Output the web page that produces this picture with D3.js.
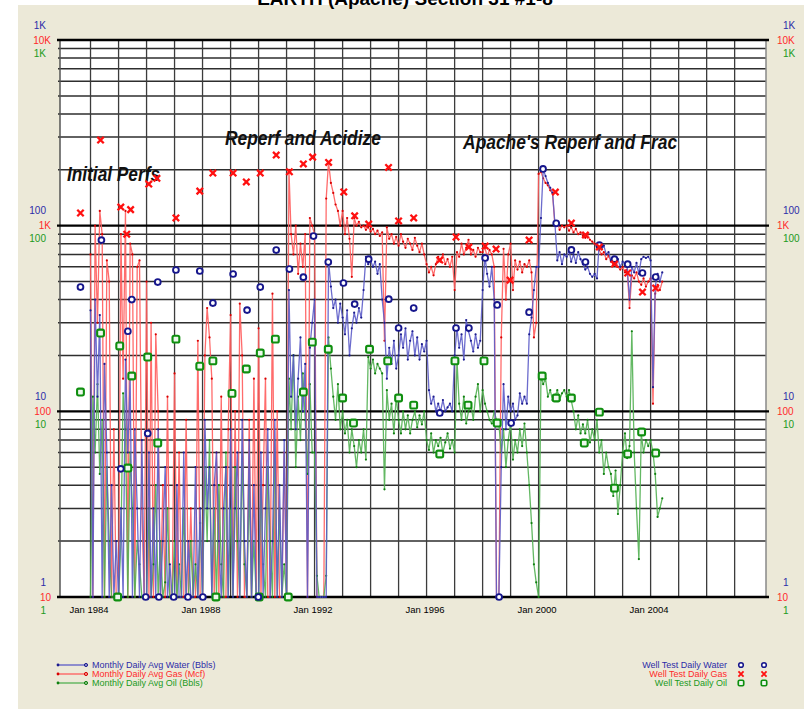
<!DOCTYPE html>
<html><head><meta charset="utf-8">
<script src="https://cdn.jsdelivr.net/npm/d3@7"></script>
<style>
html,body{margin:0;padding:0;background:#fff;}
svg{display:block;font-family:"Liberation Sans",Arial,sans-serif;}
</style></head><body>
<svg id="c" width="804" height="709"></svg>
<script>
// ---------------- DATA ----------------
const monthlyStart = [1984, 0]; // Jan 1984, one value per month
const gasMonthly = [
  700,0,1000,300,1200,900,0,650,500,0,80,0,
  0,900,150,1200,0,800,700,0,600,650,30,0,
  500,0,300,0,260,100,0,40,0,120,0,0,
  160,0,60,0,0,90,0,30,0,0,240,0,
  0,200,360,250,150,0,60,0,120,0,0,80,
  330,0,100,0,380,200,0,0,90,0,150,0,
  280,0,40,150,0,0,430,0,100,0,0,60,
  0,2000,900,700,1000,550,800,600,900,0,1100,1000,
  900,0,0,0,0,1400,2200,1700,1500,1300,1200,1000,
  1200,900,1100,850,530,1100,1000,1050,980,1000,950,980,
  930,960,900,940,880,920,240,980,850,900,800,870,
  780,900,820,760,850,800,740,860,780,720,800,700,
  620,560,600,540,620,680,640,700,620,660,600,680,
  450,720,680,800,700,760,840,700,740,680,760,720,
  720,760,680,740,700,600,0,0,250,750,400,700,
  800,450,650,580,640,560,620,600,650,560,250,300,
  1900,1950,1800,1700,1650,1550,1500,1000,1050,950,1000,980,
  1000,940,980,920,960,900,920,880,860,900,840,820,
  800,760,740,700,720,660,690,640,620,660,600,580,
  600,560,580,360,540,520,560,500,480,520,470,500,
  520,110,430,480,450,500
];
const waterMonthly = [
  35,0,40,12,33,0,18,6,0,4,0,2,
  0,3,0,19,6,15,0,8,3,0,7,0,
  0,6,0,3,0,8,0,2,5,0,1.5,0,
  0,4,0,0,6,0,2,0,0,5,0,3,
  0,9,3,5,0,4,6,2,0,3,5,0,
  8,0,3,6,0,9,2,0,7,0,4,0,
  0,6,0,3,8,0,2,9,0,4,0,7,
  0,45,12,20,8,15,25,10,18,0,22,30,
  40,0,0,0,0,0,65,47,36,40,30,38,
  32,26,35,20,28,34,30,36,32,45,68,62,
  65,60,64,55,62,40,30,15,22,18,24,17,
  20,26,22,28,19,24,27,20,25,19,23,21,
  24,13,11,12,10,11,10,11.5,10,10.5,11,10,
  20,28,22,26,19,31,27,24,21,26,22,24,
  45,68,55,47,60,40,0,0,5,14,8,12,
  10,11,9,9.5,12.5,11,12,11,26,32,45,60,
  60,110,200,185,170,160,150,103,65,72,62,70,
  68,74,64,70,63,72,66,62,58,60,55,53,
  55,52,80,75,78,70,72,65,68,62,66,60,
  64,62,60,40,60,56,63,55,66,68,67,68,
  65,13.5,47,55,50,56
];
const oilMonthly = [
  0,12,6,14,4.6,9,0,5,2,0,1,0,
  0,2,12.5,8,0,6,3,0,2,1.5,0,1,
  0,3,0,1.5,4,0,2,0,1.2,3,0,0,
  2,0,1.5,0,3,0,0,2,0,1.5,0,2.5,
  0,5,2,7,0,3,0,4,1.5,0,6,0,
  3,0,5,2,0,6,1.5,0,4,0,2,0,
  0,4,1.5,0,5,2,0,7,0,3,0,1.5,
  0,15,8,20,5,12,7,16,9,4.6,14,6,
  6,1.3,0,0,0,1.3,25,17,12,9,14,8,
  10,7.6,9,6,8,6.5,5,7,6,8,5.5,19.6,
  17,19,16,18,17,16,3.8,13,9,11,7.6,12,
  9,7.6,10,8,9.5,7.6,9,10,8.2,9.5,8.5,10,
  7,6.2,7.6,6,7,6.5,7.2,6,6.8,7.6,6.3,7,
  6,18.7,11,9,12,8.6,10,11,9,12,14,10,
  13,11,10,9,8.6,10,9,8.6,6,8,5,7,
  8.6,5.5,7,6,8,6.5,8.6,6,4,2.5,1.5,1.2,
  1,15.5,14,15,12,13,11.5,12,13,11.5,12.5,13,
  12,13,11.5,10,8,9.5,7.6,8.5,7.6,9,6.8,8,
  7,9,6,7,4.6,6,5,4.6,3.5,4.8,2.8,4,
  6,7.6,5.6,6.5,27,6,3,1.6,7.6,6,7,6.5,
  7,6,4.6,2.7,3,3.4
];
// well tests: [decimal year, value]
const gasTests = [[1983.64,1170],[1984.36,2890],[1985.08,1260],[1985.29,900],[1985.43,1220],[1986.08,1675],[1986.37,1800],[1987.05,1100],[1987.9,1535],[1988.37,1920],[1989.09,1920],[1989.56,1720],[1990.06,1920],[1990.63,2400],[1991.1,1950],[1991.6,2150],[1991.93,2340],[1992.5,2190],[1993.04,1520],[1993.43,1130],[1993.93,1020],[1994.64,2060],[1995.0,1060],[1995.54,1100],[1996.47,653],[1997.05,869],[1997.51,767],[1998.09,777],[1998.48,748],[1998.98,509],[1999.66,836],[2000.6,1517],[2001.17,1033],[2001.67,890],[2002.17,767],[2002.71,621],[2003.18,556],[2003.71,439],[2004.18,461]];
const waterTests = [[1983.64,46.7],[1984.39,83.6],[1985.08,4.9],[1985.33,27],[1985.47,40],[1986.04,7.6],[1986.4,49.7],[1987.05,57.7],[1987.9,57],[1988.37,38.3],[1989.09,54.9],[1989.59,35.1],[1990.06,46.7],[1990.63,73.9],[1991.1,58.4],[1991.6,52.8],[1991.96,87.9],[1992.49,63.7],[1993.03,49.1],[1993.43,37.8],[1993.93,66],[1994.65,40.2],[1995.0,28.1],[1995.54,36],[1996.47,9.8],[1997.05,28.1],[1997.51,28.1],[1998.09,67],[1998.52,37.4],[1999.02,8.65],[1999.66,34.2],[2000.16,202],[2000.63,103],[2001.17,74],[2001.67,63.7],[2002.17,78.6],[2002.71,66],[2003.18,62],[2003.71,55.6],[2004.18,52.9],
  [1985.97,0],[1986.44,0],[1986.97,0],[1987.48,0],[1988.01,0],[1989.99,0],[1998.59,0]];
const oilTests = [[1983.64,12.7],[1984.36,26.4],[1985.04,22.5],[1985.33,4.95],[1985.47,15.5],[1986.04,19.6],[1986.4,6.75],[1987.05,24.5],[1987.9,17.5],[1988.37,18.7],[1989.05,12.5],[1989.56,16.9],[1990.06,20.6],[1990.6,24.5],[1991.6,12.7],[1991.92,23.6],[1992.49,21.6],[1993.0,11.8],[1993.39,8.65],[1993.96,21.6],[1994.61,18.7],[1995.0,11.8],[1995.54,10.8],[1996.47,5.89],[1997.01,18.7],[1997.48,10.8],[1998.05,18.7],[1998.52,8.65],[2000.13,15.5],[2000.63,11.8],[2001.17,11.8],[2001.63,6.75],[2002.17,9.9],[2002.71,3.86],[2003.18,5.89],[2003.68,7.74],[2004.18,5.96],
  [1984.97,0],[1988.48,0],[1990.02,0],[1991.06,0]];
const xTickYears = [1984,1988,1992,1996,2000,2004];
const waterTickLabels = ["1","10","100","1K"];
const gasTickLabels = ["10","100","1K","10K"];
const oilTickLabels = ["1","10","100","1K"];
const titleText = "EARTH (Apache) Section 31 #1-8";
const annotations = [
  {text:"Initial Perfs", year:1983.16, gas:1740, len:93},
  {text:"Reperf and Acidize", year:1988.8, gas:2720, len:156},
  {text:"Apache's Reperf and Frac", year:1997.3, gas:2590, len:214}
];
const legendLines = ["Monthly Daily Avg Water (Bbls)","Monthly Daily Avg Gas (Mcf)","Monthly Daily Avg Oil (Bbls)"];
const legendTests = ["Well Test Daily Water","Well Test Daily Gas","Well Test Daily Oil"];

// ---------------- STYLE / LAYOUT ----------------
const W=804,H=709;
const P={l:60,r:766,t:40,b:597};
const C={
  water:{line:"#5c5cc8",dot:"#1c1c8e",text:"#2c2ca8",mark:"#16168c"},
  gas:{line:"#ff5c5c",dot:"#d80000",text:"#ff2a2a",mark:"#ff1010"},
  oil:{line:"#52b052",dot:"#0f7f0f",text:"#219a21",mark:"#0f8f0f"}
};
const svg=d3.select("#c");
function yd(y){const yr=Math.floor(y);return new Date(yr,0,1+Math.round((y-yr)*365.25));}

const x=d3.scaleTime().domain([yd(1982.91),yd(2008.12)]).range([P.l,P.r]);
const yW=d3.scaleLog().domain([1,1000]).range([P.b,P.t]);
const yG=d3.scaleLog().domain([10,10000]).range([P.b,P.t]);
const yO=d3.scaleLog().domain([1,1000]).range([P.b,P.t]);
const sy=(s,v)=>s(Math.max(v,s.domain()[0]));

// backgrounds
svg.append("rect").attr("width",W).attr("height",H).attr("fill","#fff");
svg.append("rect").attr("x",18).attr("y",5).attr("width",W-18).attr("height",H-5).attr("fill","#ECE9D8");
svg.append("text").attr("x",405).attr("y",5).attr("text-anchor","middle")
  .attr("font-size",19).attr("font-weight","bold").attr("fill","#000").text(titleText);
svg.append("rect").attr("x",P.l).attr("y",P.t).attr("width",P.r-P.l).attr("height",P.b-P.t).attr("fill","#fff");

// grid
const g=svg.append("g");
const minor=[],major=[1,10,100,1000];
for(let k=0;k<3;k++)for(let m=2;m<=9;m++)minor.push(m*Math.pow(10,k));
g.selectAll(".mn").data(minor).join("line")
  .attr("x1",P.l-2).attr("x2",P.r).attr("y1",d=>yW(d)).attr("y2",d=>yW(d))
  .attr("stroke","#2e2e2e").attr("stroke-width",1.5);
const years=d3.range(1984,2008);
g.selectAll(".vl").data(years).join("line")
  .attr("x1",d=>x(new Date(d,0,1))).attr("x2",d=>x(new Date(d,0,1)))
  .attr("y1",P.t).attr("y2",P.b).attr("stroke","#3c3c3c").attr("stroke-width",1.3);
g.append("line").attr("x1",P.l).attr("x2",P.l).attr("y1",P.t).attr("y2",P.b).attr("stroke","#555").attr("stroke-width",1.5);
g.append("line").attr("x1",P.r).attr("x2",P.r).attr("y1",P.t).attr("y2",P.b).attr("stroke","#888").attr("stroke-width",1.5);
g.selectAll(".mj").data(major).join("line")
  .attr("x1",P.l-3).attr("x2",P.r+3).attr("y1",d=>yW(d)).attr("y2",d=>yW(d))
  .attr("stroke","#000").attr("stroke-width",2.4);

// x axis labels
const xa=svg.append("g").attr("transform",`translate(0,${P.b+6})`)
  .call(d3.axisBottom(x).tickValues(xTickYears.map(y=>new Date(y,0,1))).tickSize(0).tickFormat(d3.timeFormat("Jan %Y")));
xa.select(".domain").remove();
xa.selectAll("text").attr("font-size",9.5).attr("fill","#000").attr("font-family","Liberation Sans, Arial, sans-serif").attr("dx",-2);

// y labels (both sides)
function ylabels(xpos,anchorRed,anchorBG,side){
  const gg=svg.append("g").attr("font-size",10);
  major.forEach((v,i)=>{
    const yy=yW(v);
    gg.append("text").attr("x",xpos+anchorBG).attr("y",yy-15+3.5).attr("text-anchor",side).attr("fill",C.water.text).text(waterTickLabels[i]);
    gg.append("text").attr("x",xpos+anchorRed).attr("y",yy+3.5).attr("text-anchor",side).attr("fill",C.gas.text).text(gasTickLabels[i]);
    gg.append("text").attr("x",xpos+anchorBG).attr("y",yy+13+3.5).attr("text-anchor",side).attr("fill",C.oil.text).text(oilTickLabels[i]);
  });
}
ylabels(0,51,46,"end");
ylabels(0,777,783,"start");

// monthly series
const mDate=i=>new Date(monthlyStart[0],monthlyStart[1]+i,1);
function series(data,scale,col){
  const pts=data.map((v,i)=>[x(mDate(i)),sy(scale,v)]);
  const gg=svg.append("g");
  gg.append("path").attr("d",d3.line()(pts)).attr("fill","none")
    .attr("stroke",col.line).attr("stroke-width",1.3).attr("stroke-opacity",0.9).attr("stroke-linejoin","round");
  gg.selectAll("circle").data(pts).join("circle").attr("cx",d=>d[0]).attr("cy",d=>d[1]).attr("r",1.1).attr("fill",col.dot);
}
series(gasMonthly,yG,C.gas);
series(oilMonthly,yO,C.oil);
series(waterMonthly,yW,C.water);

// annotations
annotations.forEach(a=>{
  svg.append("text").attr("x",x(yd(a.year))).attr("y",yG(a.gas))
    .attr("font-size",20).attr("font-weight","bold").attr("font-style","italic")
    .attr("fill","#111").attr("textLength",a.len).attr("lengthAdjust","spacingAndGlyphs").text(a.text);
});

// well test markers
function xMark(sel,col){sel.append("path").attr("d","M-3.2,-3.2L3.2,3.2M3.2,-3.2L-3.2,3.2").attr("stroke",col).attr("stroke-width",2.3).attr("fill","none");}
function oMark(sel,col){sel.append("circle").attr("r",2.9).attr("stroke",col).attr("stroke-width",1.9).attr("fill","#fff");}
function sMark(sel,col){sel.append("rect").attr("x",-3.4).attr("y",-3.4).attr("width",6.8).attr("height",6.8).attr("rx",1.6).attr("stroke",col).attr("stroke-width",2.1).attr("fill","#eef8ee");}
svg.append("g").selectAll("g").data(oilTests).join("g")
  .attr("transform",d=>`translate(${x(yd(d[0]))},${sy(yO,d[1])})`).each(function(){sMark(d3.select(this),C.oil.mark);});
svg.append("g").selectAll("g").data(waterTests).join("g")
  .attr("transform",d=>`translate(${x(yd(d[0]))},${sy(yW,d[1])})`).each(function(){oMark(d3.select(this),C.water.mark);});
svg.append("g").selectAll("g").data(gasTests).join("g")
  .attr("transform",d=>`translate(${x(yd(d[0]))},${sy(yG,d[1])})`).each(function(){xMark(d3.select(this),C.gas.mark);});

// legend
const cols=[C.water,C.gas,C.oil];
const lg=svg.append("g").attr("font-size",9);
legendLines.forEach((t,i)=>{
  const yy=665+i*9;
  const c=cols[i];
  lg.append("line").attr("x1",57).attr("x2",87).attr("y1",yy).attr("y2",yy).attr("stroke",c.line).attr("stroke-width",1.3);
  lg.append("circle").attr("cx",58).attr("cy",yy).attr("r",1.4).attr("fill",c.dot);
  lg.append("circle").attr("cx",86).attr("cy",yy).attr("r",1.6).attr("fill","none").attr("stroke",c.dot).attr("stroke-width",1);
  lg.append("text").attr("x",92).attr("y",yy+3.2).attr("fill",c.text).text(t);
});
const mk=[oMark,xMark,sMark];
legendTests.forEach((t,i)=>{
  const yy=665+i*9;
  const c=cols[i];
  lg.append("text").attr("x",727).attr("y",yy+3.2).attr("text-anchor","end").attr("fill",c.text).text(t);
  [741,764].forEach(xx=>{
    const s=lg.append("g").attr("transform",`translate(${xx},${yy}) scale(0.8)`);
    mk[i](s,c.mark);
  });
});
</script>
</body></html>
